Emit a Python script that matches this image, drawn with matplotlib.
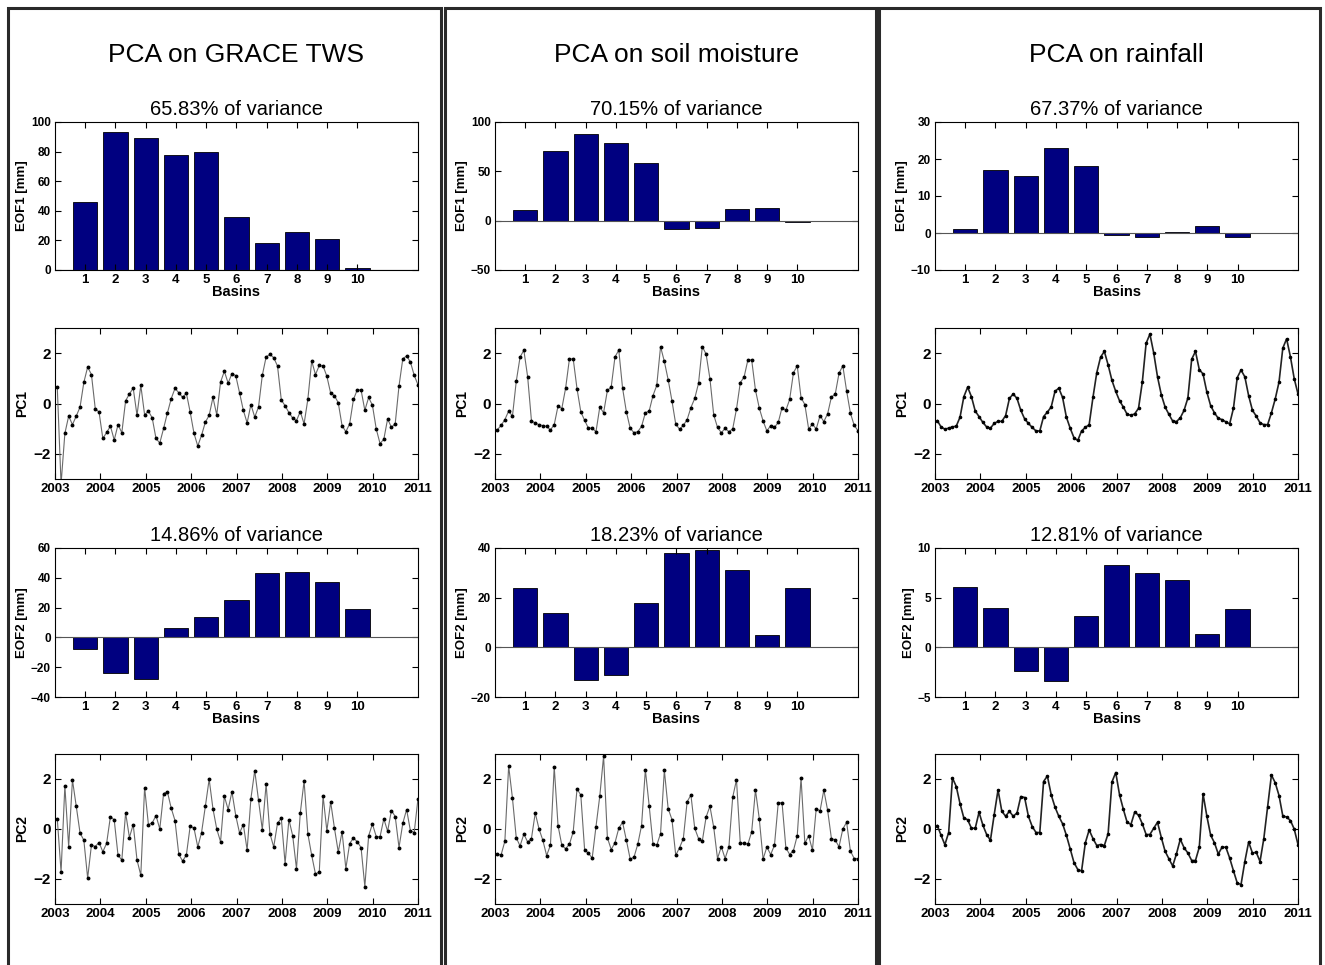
import matplotlib
matplotlib.use("Agg")
import matplotlib.pyplot as plt
import numpy as np
from matplotlib.patches import Rectangle

plt.rcParams["font.family"] = ["Liberation Sans", "DejaVu Sans"]

# ---- data -------------------------------------------------------------
basins = np.arange(1, 11)

col_titles = ["PCA on GRACE TWS", "PCA on soil moisture", "PCA on rainfall"]
var1 = ["65.83% of variance", "70.15% of variance", "67.37% of variance"]
var2 = ["14.86% of variance", "18.23% of variance", "12.81% of variance"]

eof1_grace = [46, 93, 89, 78, 80, 36, 18, 26, 21, 1.5]
eof1_soil = [11, 71, 88, 79, 58, -8, -7, 12, 13, -1]
eof1_rain = [1, 17, 15.5, 23, 18, -0.5, -1.2, 0.3, 2, -1]

eof2_grace = [-8, -24, -28, 6, 14, 25, 43, 44, 37, 19]
eof2_soil = [24, 14, -13, -11, 18, 38, 39, 31, 5, 24]
eof2_rain = [6.1, 4, -2.4, -3.4, 3.2, 8.3, 7.5, 6.8, 1.3, 3.9]

pc1_grace = [0.65, -3.2, -1.19, -0.5, -0.84, -0.5, -0.14, 0.84, 1.45, 1.15, -0.2, -0.34,
             -1.39, -1.15, -0.9, -1.45, -0.84, -1.16, 0.11, 0.38, 0.61, -0.47, 0.72, -0.45,
             -0.3, -0.57, -1.39, -1.57, -0.99, -0.38, 0.19, 0.6, 0.43, 0.24, 0.41, -0.34,
             -1.18, -1.69, -1.26, -0.74, -0.47, 0.24, -0.45, 0.85, 1.28, 0.81, 1.19, 1.11,
             0.43, -0.27, -0.77, -0.04, -0.54, -0.14, 1.12, 1.85, 1.95, 1.82, 1.49, 0.14,
             -0.09, -0.36, -0.58, -0.68, -0.32, -0.81, 0.18, 1.69, 1.15, 1.51, 1.49, 1.08,
             0.41, 0.31, 0.03, -0.88, -1.12, -0.81, 0.16, 0.54, 0.54, -0.27, 0.24, -0.07,
             -1.01, -1.59, -1.42, -0.61, -0.95, -0.8, 0.7, 1.78, 1.89, 1.65, 1.12, 0.74]
pc1_soil = [-1.05, -0.87, -0.64, -0.3, -0.5, 0.88, 1.84, 2.12, 1.06, -0.68, -0.78, -0.84,
            -0.88, -0.91, -1.05, -0.84, -0.1, -0.2, 0.61, 1.77, 1.77, 0.59, -0.33, -0.67,
            -0.98, -0.98, -1.12, -0.14, -0.37, 0.52, 0.65, 1.85, 2.12, 0.61, -0.33, -0.98,
            -1.16, -1.12, -0.91, -0.37, -0.3, 0.31, 0.72, 2.26, 1.67, 0.95, 0.11, -0.82,
            -1.02, -0.87, -0.64, -0.16, 0.2, 0.8, 2.26, 1.96, 0.99, -0.45, -0.95, -1.16,
            -0.99, -1.12, -1.01, -0.22, 0.83, 1.05, 1.73, 1.73, 0.53, -0.18, -0.69, -1.09,
            -0.88, -0.95, -0.75, -0.16, -0.27, 0.16, 1.22, 1.5, 0.23, -0.04, -1.01, -0.82,
            -1.01, -0.48, -0.72, -0.41, 0.26, 0.37, 1.2, 1.5, 0.5, -0.38, -0.87, -1.08]
pc1_rain = [-0.68, -0.93, -1.02, -0.98, -0.93, -0.9, -0.54, 0.27, 0.65, 0.27, -0.3, -0.52,
            -0.75, -0.93, -0.98, -0.79, -0.71, -0.71, -0.48, 0.2, 0.38, 0.2, -0.27, -0.61,
            -0.79, -0.95, -1.09, -1.09, -0.52, -0.34, -0.14, 0.48, 0.61, 0.24, -0.54, -0.98,
            -1.36, -1.47, -1.09, -0.95, -0.84, 0.24, 1.22, 1.84, 2.07, 1.53, 0.92, 0.48,
            0.11, -0.14, -0.43, -0.47, -0.41, -0.19, 0.85, 2.39, 2.76, 2.01, 1.06, 0.35,
            -0.14, -0.43, -0.7, -0.72, -0.57, -0.27, 0.22, 1.76, 2.07, 1.35, 1.17, 0.45,
            -0.09, -0.37, -0.59, -0.64, -0.73, -0.81, -0.19, 1.03, 1.33, 1.06, 0.31, -0.27,
            -0.5, -0.77, -0.84, -0.84, -0.37, 0.18, 0.85, 2.2, 2.57, 1.86, 0.99, 0.38]

pc2_grace = [0.41, -1.72, 1.73, -0.7, 1.96, 0.91, -0.16, -0.45, -1.96, -0.64, -0.7, -0.54,
             -0.91, -0.57, 0.5, 0.36, -1.05, -1.24, 0.65, -0.34, 0.18, -1.24, -1.85, 1.66,
             0.18, 0.24, 0.54, 0.0, 1.42, 1.49, 0.84, 0.34, -1.01, -1.28, -1.04, 0.11,
             0.04, -0.72, -0.14, 0.91, 1.99, 0.81, 0.0, -0.51, 1.31, 0.78, 1.49, 0.54,
             -0.16, 0.18, -0.84, 1.22, 2.34, 1.15, -0.03, 1.8, -0.18, -0.72, 0.23, 0.43,
             -1.38, 0.38, -0.27, -1.59, 0.64, 1.92, -0.2, -1.05, -1.8, -1.72, 1.32, -0.07,
             1.08, 0.03, -0.92, -0.11, -1.58, -0.58, -0.36, -0.51, -0.74, -2.3, -0.27, 0.2,
             -0.3, -0.31, 0.41, -0.09, 0.74, 0.5, -0.74, 0.23, 0.78, -0.07, -0.14, 1.22]
pc2_soil = [-1.0, -1.04, -0.49, 2.52, 1.23, -0.35, -0.68, -0.2, -0.52, -0.38, 0.64, 0.0,
            -0.45, -1.06, -0.65, 2.48, 0.14, -0.65, -0.79, -0.61, -0.11, 1.6, 1.36, -0.83,
            -0.97, -1.16, 0.1, 1.32, 2.92, -0.35, -0.82, -0.55, 0.03, 0.27, -0.45, -1.2,
            -1.13, -0.61, 0.14, 2.37, 0.94, -0.59, -0.65, -0.18, 2.35, 0.82, 0.38, -1.05,
            -0.75, -0.38, 1.09, 1.36, 0.03, -0.38, -0.48, 0.48, 0.91, 0.07, -1.18, -0.71,
            -1.18, -0.71, 1.27, 1.97, -0.57, -0.57, -0.61, -0.11, 1.56, 0.41, -1.2, -0.72,
            -1.02, -0.65, 1.05, 1.05, -0.75, -1.02, -0.86, -0.27, 2.04, -0.57, -0.27, -0.84,
            0.82, 0.72, 1.56, 0.75, -0.38, -0.44, -0.71, 0.0, 0.27, -0.88, -1.18, -1.18]
pc2_rain = [0.14, -0.25, -0.63, -0.14, 2.04, 1.7, 1.01, 0.44, 0.37, 0.03, 0.03, 0.67,
            0.16, -0.22, -0.45, 0.58, 1.56, 0.71, 0.51, 0.71, 0.51, 0.64, 1.3, 1.26,
            0.51, 0.1, -0.14, -0.14, 1.9, 2.12, 1.37, 0.88, 0.51, 0.21, -0.25, -0.79,
            -1.34, -1.62, -1.68, -0.55, -0.04, -0.38, -0.66, -0.62, -0.66, -0.18, 1.88, 2.26,
            1.37, 0.79, 0.27, 0.18, 0.68, 0.55, 0.21, -0.22, -0.22, 0.03, 0.27, -0.34,
            -0.89, -1.19, -1.48, -0.99, -0.41, -0.75, -0.96, -1.26, -1.26, -0.73, 1.4, 0.51,
            -0.25, -0.55, -1.0, -0.73, -0.73, -1.16, -1.67, -2.16, -2.22, -1.3, -0.52, -0.96,
            -0.93, -1.3, -0.38, 0.89, 2.16, 1.85, 1.34, 0.52, 0.48, 0.34, 0.0, -0.62]

years = list(range(2003, 2012))

eof1 = [eof1_grace, eof1_soil, eof1_rain]
eof2 = [eof2_grace, eof2_soil, eof2_rain]
pc1 = [pc1_grace, pc1_soil, pc1_rain]
pc2 = [pc2_grace, pc2_soil, pc2_rain]

eof1_lim = [(0, 100), (-50, 100), (-10, 30)]
eof1_ticks = [[0, 20, 40, 60, 80, 100], [-50, 0, 50, 100], [-10, 0, 10, 20, 30]]
eof2_lim = [(-40, 60), (-20, 40), (-5, 10)]
eof2_ticks = [[-40, -20, 0, 20, 40, 60], [-20, 0, 20, 40], [-5, 0, 5, 10]]

# ---- layout (pixel boxes, y from top) ---------------------------------
W, H = 1325, 965
col_x = [(55, 418), (495, 858), (935, 1298)]
row_y = [(122, 270), (328, 479), (548, 697), (754, 904)]

BAR_COLOR = "#000080"
TICK_KW = dict(direction="in", length=4, width=0.8, top=True, right=True,
               labelsize=9.5, pad=3)


def make_ax(fig, col, row):
    x0, x1 = col_x[col]
    y0, y1 = row_y[row]
    return fig.add_axes([x0 / W, 1 - y1 / H, (x1 - x0) / W, (y1 - y0) / H])


def bold_ticks(ax):
    for lab in ax.get_xticklabels() + ax.get_yticklabels():
        lab.set_fontweight("bold")


def draw_eof(ax, values, ylim, yticks, ylabel, title):
    ax.bar(basins, values, width=0.8, color=BAR_COLOR, edgecolor="black", linewidth=0.6)
    ax.axhline(0, color="#555555", linewidth=0.8)
    ax.set_xlim(0, 12)
    ax.set_ylim(*ylim)
    ax.set_xticks(basins)
    ax.set_yticks(yticks)
    ax.tick_params(**TICK_KW)
    ax.tick_params(axis="y", labelsize=8.5)
    bold_ticks(ax)
    ax.set_xlabel("Basins", fontsize=10.5, fontweight="bold", labelpad=-1)
    ax.set_ylabel(ylabel, fontsize=9.5, fontweight="bold", labelpad=2)
    ax.set_title(title, fontsize=14.5, pad=5)


def draw_pc(ax, values, ylabel, col):
    t = np.linspace(2003.05, 2011.0, len(values))
    if col == 2:
        ax.plot(t, values, color="#222222", linewidth=1.2, marker="o", markersize=1.6,
                markerfacecolor="black", markeredgecolor="black")
    else:
        ax.plot(t, values, color="#6a6a6a", linewidth=0.8, marker="o", markersize=1.8,
                markerfacecolor="black", markeredgecolor="black")
    ax.set_xlim(2003, 2011)
    ax.set_ylim(-3, 3)
    ax.set_xticks(years)
    ax.set_yticks([-2, 0, 2])
    ax.tick_params(**TICK_KW)
    ax.tick_params(axis="y", labelsize=11)
    bold_ticks(ax)
    ax.set_ylabel(ylabel, fontsize=10, fontweight="bold", labelpad=3)


fig = plt.figure(figsize=(W / 100, H / 100), dpi=100)

# panel frames
frames = [(8, 441), (445, 876), (879, 1320)]
for x0, x1 in frames:
    fig.add_artist(Rectangle((x0 / W, -0.05), (x1 - x0) / W, 1.05 - 8 / H,
                             transform=fig.transFigure, fill=False,
                             edgecolor="#2a2a2a", linewidth=2.2))

for c in range(3):
    cx = (col_x[c][0] + col_x[c][1]) / 2 / W
    fig.text(cx, 1 - 55 / H, col_titles[c], ha="center", va="center", fontsize=19)

    ax = make_ax(fig, c, 0)
    draw_eof(ax, eof1[c], eof1_lim[c], eof1_ticks[c], "EOF1 [mm]", var1[c])
    ax = make_ax(fig, c, 1)
    draw_pc(ax, pc1[c], "PC1", c)
    ax = make_ax(fig, c, 2)
    draw_eof(ax, eof2[c], eof2_lim[c], eof2_ticks[c], "EOF2 [mm]", var2[c])
    ax = make_ax(fig, c, 3)
    draw_pc(ax, pc2[c], "PC2", c)

fig.savefig("out.png", dpi=100)
